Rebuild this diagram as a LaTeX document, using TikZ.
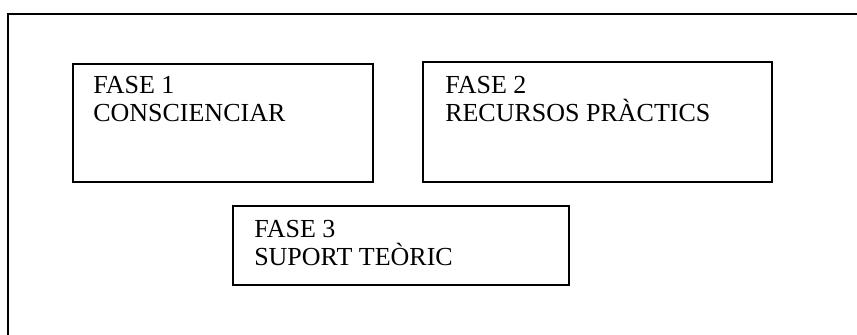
\documentclass[tikz,border=0pt]{standalone}
\usepackage{fontspec}
\setmainfont{Liberation Serif}
\begin{document}
\begin{tikzpicture}[x=0.75pt,y=-0.75pt,
  box/.style={draw, line width=1.4pt, inner sep=0pt, anchor=north west},
  lbl/.style={anchor=base west, align=left, inner sep=0pt, font=\fontsize{19.5}{21}\selectfont}]
\useasboundingbox (0,0) rectangle (857,335);
\coordinate (fb) at (8,340);
\coordinate (fc) at (8,14);
\coordinate (fr) at (862,14);
\draw[line width=2.2pt] (fb) -- (fc) -- (fr);
\node[box, minimum width=225pt, minimum height=88.5pt] (b1) at (72,63) {};
\node[box, minimum width=261.75pt, minimum height=90pt] (b2) at (422,61) {};
\node[box, minimum width=252pt, minimum height=59.25pt] (b3) at (232,205) {};
\node[lbl] (t1) at (93,122) {FASE 1\\CONSCIENCIAR};
\node[lbl] (t2) at (445,122) {FASE 2\\RECURSOS PRÀCTICS};
\node[lbl] (t3) at (254,265) {FASE 3\\SUPORT TEÒRIC};
\end{tikzpicture}
\end{document}
